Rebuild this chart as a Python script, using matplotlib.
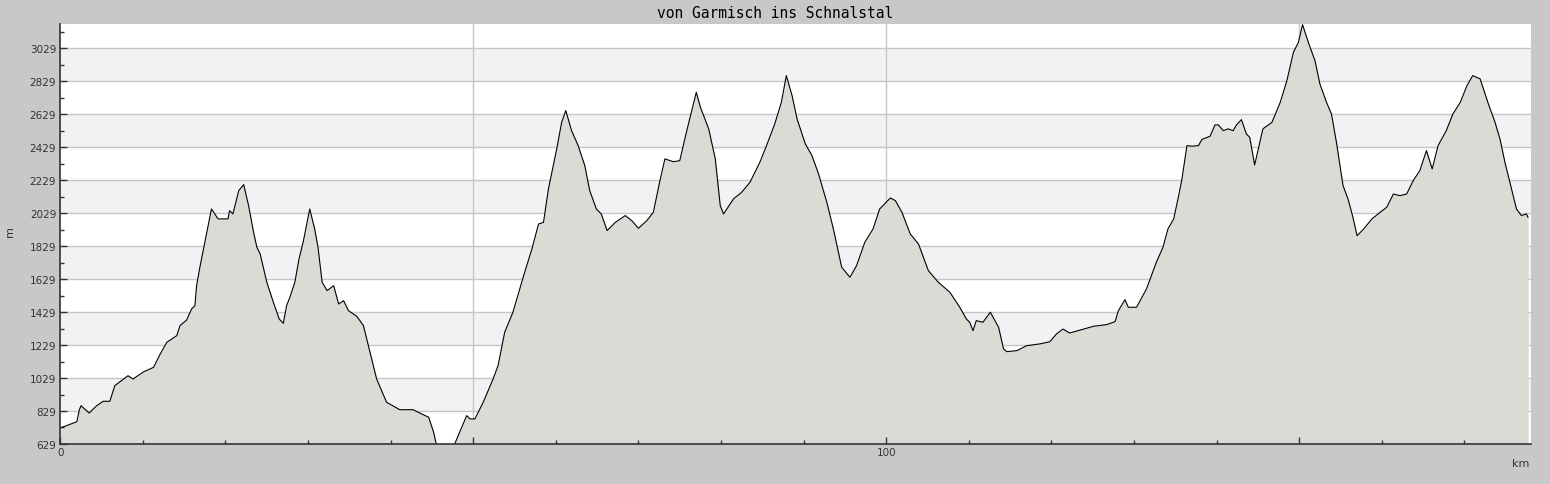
import numpy as np
import matplotlib.pyplot as plt
from matplotlib.ticker import MultipleLocator, FuncFormatter

# Hoehenprofil: Distanz (km) und Hoehe (m)
dist_km = [0.0, 2.0, 2.3, 2.5, 3.5, 4.4, 5.2, 6.0, 6.6, 8.2, 8.8, 10.1, 11.3, 12.1, 12.9,
           14.1, 14.5, 15.3, 15.9, 16.3, 16.5, 16.9, 17.5, 17.9, 18.3, 19.1, 20.3, 20.5,
           20.9, 21.6, 22.2, 22.8, 23.4, 23.8, 24.2, 25.0, 25.8, 26.5, 27.0, 27.4, 27.8,
           28.4, 28.9, 29.4, 30.2, 30.8, 31.2, 31.7, 32.3, 33.1, 33.7, 34.3, 34.9, 35.9,
           36.7, 37.3, 38.3, 39.5, 41.1, 42.7, 44.6, 45.2, 45.6, 46.8, 47.6, 48.0, 49.2,
           49.6, 50.2, 51.2, 52.4, 53.0, 53.8, 54.8, 56.1, 57.1, 57.9, 58.5, 59.1, 60.1,
           60.7, 61.2, 61.9, 62.7, 63.5, 64.1, 64.9, 65.5, 66.2, 67.2, 68.4, 69.2, 70.0,
           71.0, 71.8, 72.6, 73.2, 74.2, 75.0, 75.8, 76.4, 77.0, 77.5, 78.5, 79.3, 79.9,
           80.3, 81.5, 82.5, 83.5, 84.7, 85.5, 86.5, 87.3, 87.9, 88.6, 89.2, 90.2, 91.0,
           91.8, 92.8, 93.6, 94.6, 95.6, 96.4, 97.4, 98.4, 99.2, 100.5, 101.1, 101.9,
           102.9, 103.9, 105.1, 106.3, 107.7, 108.9, 109.7, 110.1, 110.5, 110.9, 111.7,
           112.6, 113.6, 114.2, 114.6, 115.8, 117.0, 118.6, 119.8, 120.6, 121.4, 122.2,
           123.5, 125.1, 126.7, 127.7, 128.1, 128.9, 129.3, 130.3, 131.5, 132.7, 133.5,
           134.1, 134.8, 135.4, 135.8, 136.4, 137.0, 137.8, 138.2, 139.2, 139.8, 140.2,
           140.8, 141.4, 142.0, 142.4, 143.0, 143.6, 144.0, 144.6, 145.6, 146.7, 147.7,
           148.5, 149.3, 149.9, 150.4, 151.1, 151.9, 152.5, 153.3, 153.9, 154.5, 155.3,
           155.9, 156.5, 157.0, 157.8, 158.8, 159.8, 160.6, 161.4, 162.2, 163.0, 163.8,
           164.6, 165.4, 166.1, 166.8, 167.8, 168.6, 169.5, 170.3, 171.0, 171.9, 172.3,
           172.9, 173.7, 174.3, 174.9, 175.5, 176.3, 176.9, 177.5, 177.7]
hoehe_m = [726, 764, 835, 861, 817, 861, 888, 888, 983, 1043, 1023, 1067, 1094, 1175, 1246,
           1286, 1347, 1381, 1448, 1468, 1589, 1701, 1852, 1953, 2054, 1994, 1994, 2044,
           2024, 2165, 2202, 2074, 1913, 1822, 1781, 1610, 1488, 1387, 1361, 1468, 1519,
           1610, 1751, 1852, 2054, 1933, 1822, 1610, 1559, 1589, 1478, 1498, 1437, 1403,
           1347, 1225, 1023, 882, 837, 837, 791, 700, 610, 590, 610, 659, 801,
           781, 781, 882, 1023, 1104, 1306, 1428, 1650, 1812, 1963, 1973, 2176, 2418,
           2580, 2651, 2529, 2438, 2317, 2165, 2054, 2024, 1923, 1973, 2014, 1983, 1937,
           1983, 2034, 2226, 2358, 2341, 2347, 2519, 2641, 2762, 2671, 2540, 2358, 2074,
           2024, 2115, 2156, 2216, 2338, 2438, 2570, 2701, 2863, 2741, 2600, 2449, 2378,
           2267, 2095, 1933, 1701, 1640, 1710, 1852, 1933, 2054, 2121, 2105, 2034,
           1903, 1842, 1680, 1610, 1549, 1458, 1387, 1367, 1316, 1377, 1367,
           1428, 1337, 1205, 1189, 1195, 1225, 1236, 1249, 1296, 1326, 1302,
           1320, 1343, 1353, 1371, 1437, 1504, 1458, 1458, 1569, 1731, 1822,
           1933, 1994, 2135, 2236, 2438, 2435, 2438, 2475, 2495, 2564, 2564,
           2529, 2540, 2529, 2564, 2596, 2509, 2489, 2321, 2540, 2580, 2701,
           2832, 3005, 3065, 3172, 3065, 2954, 2812, 2701, 2630, 2459, 2196,
           2115, 2004, 1892, 1933, 1994, 2034, 2065, 2145, 2135, 2145, 2226,
           2287, 2408, 2297, 2438, 2529, 2630, 2701, 2802, 2863, 2843, 2782,
           2691, 2580, 2479, 2338, 2216, 2054, 2014, 2024, 2004]

titel = 'von Garmisch ins Schnalstal'
y_min, y_max = 629, 3176
x_max = 178.05

bg = '#c8c8c8'
fig = plt.figure(figsize=(15.5, 4.85), dpi=100, facecolor=bg)
ax = fig.add_axes([0.0389, 0.0825, 0.9488, 0.8660])
ax.set_facecolor('white')

# abwechselnde Baender
stufen = np.arange(y_min, y_max + 200, 200)
for i, lo in enumerate(stufen):
    if i % 2 == 1:
        ax.axhspan(lo, lo + 200, color='#f3f1f4', lw=0, zorder=0)
for lo in stufen[1:]:
    if lo < y_max:
        ax.axhline(lo, color='#c6c6c6', lw=1, zorder=0.5)
for xv in (50, 100, 150):
    ax.axvline(xv, color='#c6c6c6', lw=1, zorder=0.5)

ax.fill_between(dist_km, y_min - 100, hoehe_m, color='#dbdad5', lw=0, zorder=1)
ax.plot(dist_km, hoehe_m, color='black', lw=0.8, zorder=2)

ax.set_xlim(0, x_max)
ax.set_ylim(y_min, y_max)

for s in ('top', 'right'):
    ax.spines[s].set_visible(False)
for s in ('left', 'bottom'):
    ax.spines[s].set_color('#333333')
    ax.spines[s].set_linewidth(1.2)

ax.yaxis.set_major_locator(MultipleLocator(200, offset=y_min))
ax.yaxis.set_minor_locator(MultipleLocator(100, offset=y_min))
ax.xaxis.set_major_locator(MultipleLocator(50))
ax.xaxis.set_minor_locator(MultipleLocator(10))
ax.xaxis.set_major_formatter(FuncFormatter(lambda v, p: f'{v:.0f}' if round(v) % 100 == 0 else ''))
ax.yaxis.set_major_formatter(FuncFormatter(lambda v, p: f'{v:.0f}'))
ax.tick_params(direction='in', length=5, width=1, color='#333333', labelsize=7.5,
               labelcolor='#333333', pad=3)
ax.tick_params(which='minor', direction='in', length=3, width=1, color='#333333')
ax.tick_params(axis='x', pad=2)

fig.text(0.5, 1 - 14 / 485, titel, ha='center', va='center', family='DejaVu Sans Mono',
         fontsize=10.5, color='black')
fig.text(10 / 1550, 1 - 232 / 485, 'm', rotation=90, ha='center', va='center',
         fontsize=8, color='#333333')
fig.text(1521 / 1550, 1 - 464 / 485, 'km', ha='center', va='center', fontsize=8,
         color='#333333')

fig.savefig('out.png', dpi=100, facecolor=bg)
